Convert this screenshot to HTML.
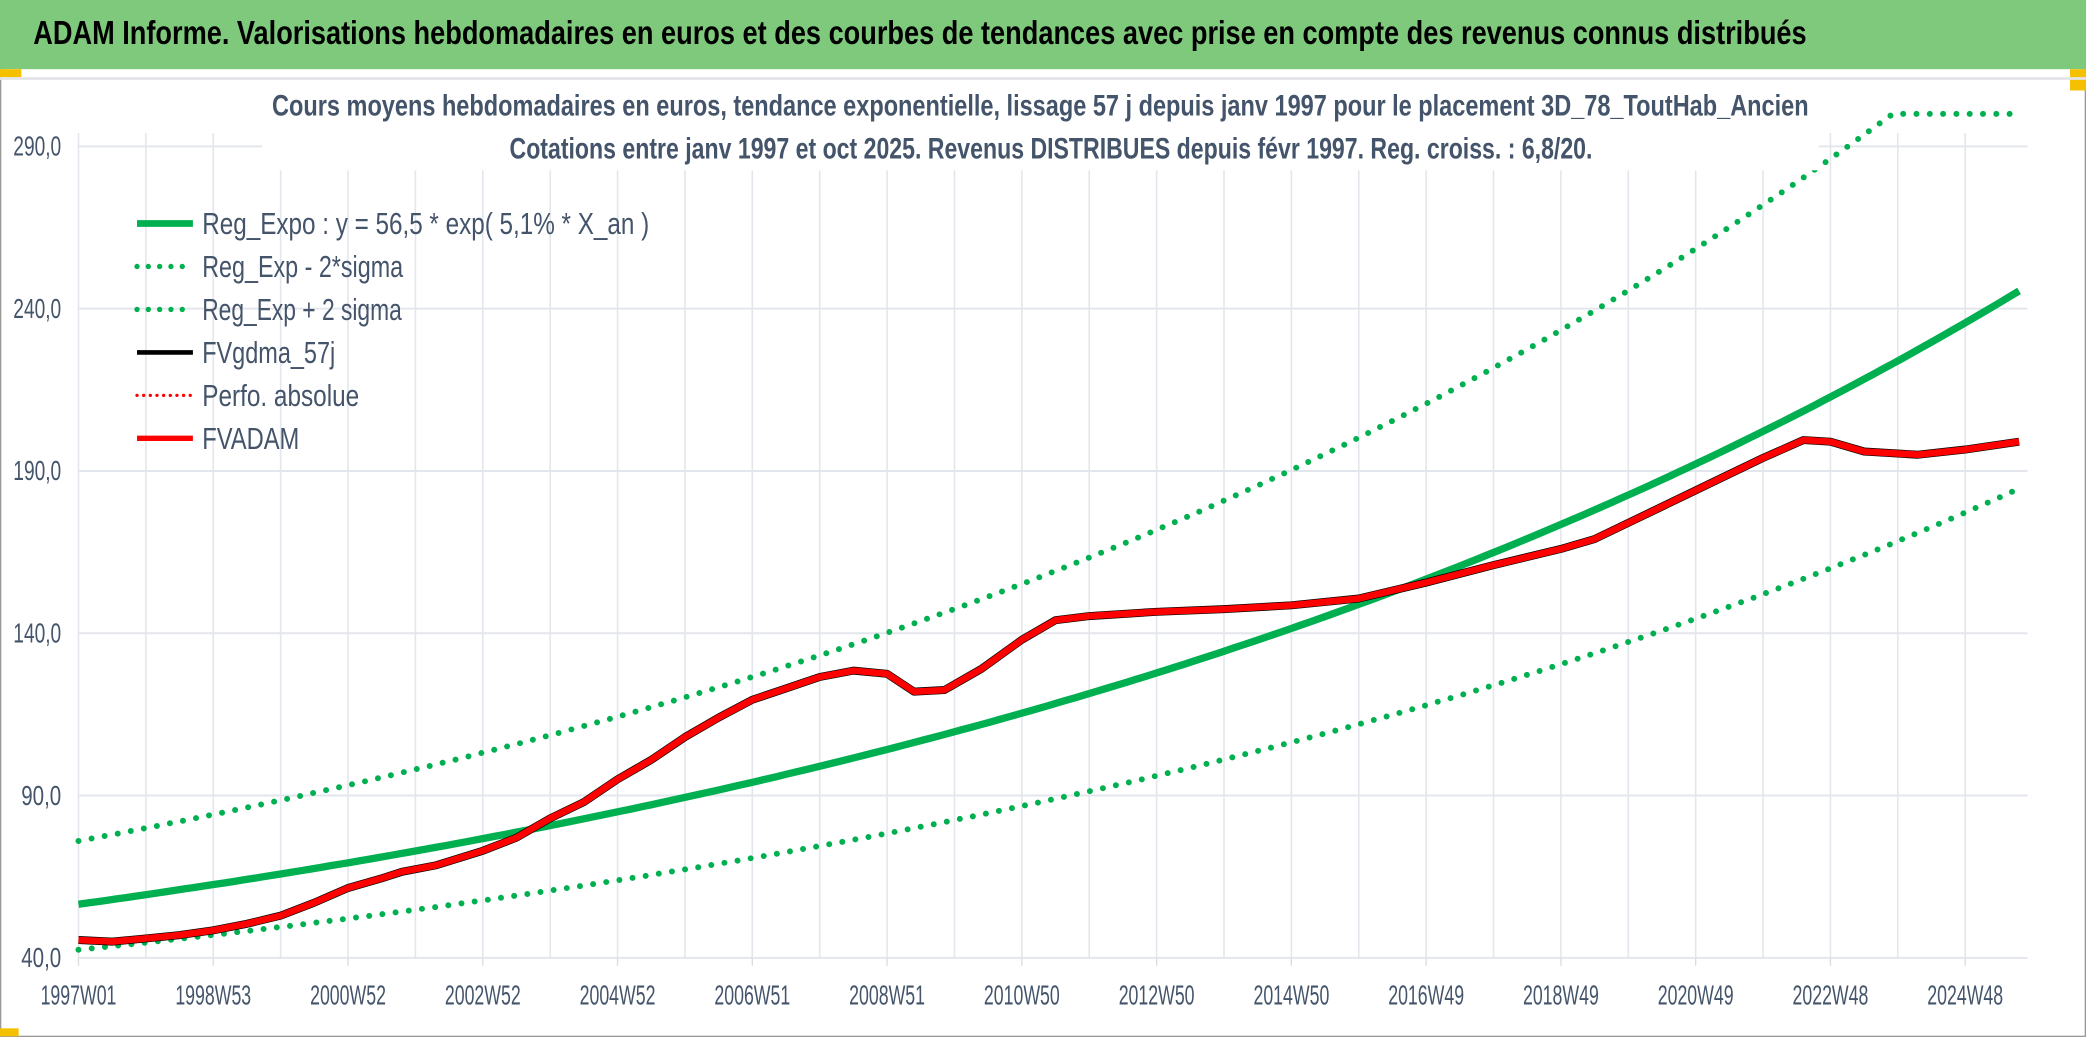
<!DOCTYPE html>
<html><head><meta charset="utf-8"><style>
html,body{margin:0;padding:0;background:#fff;}
svg{display:block;}
text{font-family:"Liberation Sans Narrow","Liberation Sans",sans-serif;}
</style></head><body>
<svg id="chart" width="2086" height="1037" viewBox="0 0 1568 779.5" preserveAspectRatio="none" xmlns="http://www.w3.org/2000/svg">
<rect x="0" y="0" width="1568" height="779.5" fill="#fff" stroke="#9a9a9a" stroke-width="2"/>
<rect x="0" y="0" width="1568" height="52" fill="#7fc97c"/>
<text x="25" y="33" font-size="25" font-weight="bold" fill="#000" textLength="1333" lengthAdjust="spacingAndGlyphs">ADAM Informe. Valorisations hebdomadaires en euros et des courbes de tendances avec prise en compte des revenus connus distribués</text>
<rect x="0" y="52" width="16" height="6" fill="#f5c000"/>
<rect x="1556" y="52" width="12" height="16" fill="#f5c000"/>
<line x1="0" y1="59" x2="1568" y2="59" stroke="#e4e4e8" stroke-width="2"/>
<rect x="0" y="773" width="14" height="6" fill="#f5c000"/>
<g id="grid"></g>
<g id="series"></g>
<rect x="197" y="62" width="1170" height="66" fill="#fff"/>
<text x="782" y="87" text-anchor="middle" font-size="22" font-weight="bold" fill="#44546a" textLength="1155" lengthAdjust="spacingAndGlyphs">Cours moyens hebdomadaires en euros, tendance exponentielle, lissage 57 j depuis janv 1997 pour le placement 3D_78_ToutHab_Ancien</text>
<text x="790" y="119" text-anchor="middle" font-size="22" font-weight="bold" fill="#44546a" textLength="814" lengthAdjust="spacingAndGlyphs">Cotations entre janv 1997 et oct 2025. Revenus DISTRIBUES depuis févr 1997. Reg. croiss. : 6,8/20.</text>
<g id="axes"></g>
<g id="legend"></g>
</svg>
<script>
const yTicks=[40,90,140,190,240,290];
const xTickLabels=["1997W01","1998W53","2000W52","2002W52","2004W52","2006W51","2008W51","2010W50","2012W50","2014W50","2016W49","2018W49","2020W49","2022W48","2024W48"];
const regA=56.5;
const regRate=0.051;
const sigmaHi=1.345;
const sigmaLo=0.752;
const capValue=300;
const tEnd=28.8;
const fvT=[0,0.5,1,1.5,2,2.5,3,3.5,4,4.5,4.8,5.3,6,6.5,7,7.5,8,8.5,9,9.5,10,10.5,11,11.5,12,12.4,12.85,13.4,14,14.5,15,16,17,18,19,20,21,22,22.5,23,23.5,24,24.5,25,25.6,26,26.5,27.3,28,28.8];
const fvV=[45.5,45,46,47,48.5,50.5,53,57,61.5,64.5,66.5,68.5,73,77,83,88,95,101,108,114,119.5,123,126.5,128.5,127.5,122,122.5,129,138,144,145.3,146.6,147.4,148.6,150.7,155.6,161,166,169,174,179,184,189,194,199.5,199,196,195,196.6,199];

const L=59,R=1524,Y0=720,YPX=2.44,XPY=50.65;
const xs=t=>L+t*XPY;
const ys=v=>Y0-(v-40)*YPX;
const NS="http://www.w3.org/2000/svg";
function mk(tag,parent,attrs){const e=document.createElementNS(NS,tag);for(const k in attrs)e.setAttribute(k,attrs[k]);parent.appendChild(e);return e;}
const grid=document.getElementById('grid'),axes=document.getElementById('axes'),ser=document.getElementById('series'),leg=document.getElementById('legend');
for(let i=0;i<=29;i++){const x=xs(i);if(x>R+1)break;const l=mk('line',grid,{x1:x,y1:ys(290)-10,x2:x,y2:Y0,stroke:'#e3e6ec','stroke-width':1.2});

}
yTicks.forEach(v=>{const l=mk('line',grid,{x1:L,y1:ys(v),x2:R,y2:ys(v),stroke:'#e3e6ec','stroke-width':1.5});


const t=mk('text',axes,{x:46,y:ys(v)+7,'text-anchor':'end','font-size':21,fill:'#44546a',textLength:v>=100?36:30,lengthAdjust:'spacingAndGlyphs'});t.textContent=v.toFixed(1).replace('.',',');

});
xTickLabels.forEach((s,i)=>{const x=xs(i*2);
const tk=mk('line',axes,{x1:x,y1:Y0,x2:x,y2:Y0+6,stroke:'#d9dce2','stroke-width':1});


const t=mk('text',axes,{x:x,y:755,'text-anchor':'middle','font-size':21,fill:'#44546a',textLength:57,lengthAdjust:'spacingAndGlyphs'});t.textContent=s;

});
function reg(t){return regA*Math.exp(regRate*t);}
function pathFrom(f){let d='';for(let i=0;i<=200;i++){const t=tEnd*i/200;d+=(i?'L':'M')+xs(t).toFixed(1)+','+ys(f(t)).toFixed(1);}return d;}
const up=mk('path',ser,{d:pathFrom(t=>Math.min(capValue,reg(t)*sigmaHi)),fill:'none',stroke:'#00b050','stroke-width':4.5,'stroke-dasharray':'0 10','stroke-linecap':'round'});


const lo=mk('path',ser,{d:pathFrom(t=>reg(t)*sigmaLo),fill:'none',stroke:'#00b050','stroke-width':4.5,'stroke-dasharray':'0 10','stroke-linecap':'round'});


const rg=mk('path',ser,{d:pathFrom(reg),fill:'none',stroke:'#00b050','stroke-width':5.5});


let d='';fvT.forEach((t,i)=>{d+=(i?'L':'M')+xs(t).toFixed(1)+','+ys(fvV[i]).toFixed(1);});
const bk=mk('path',ser,{d:d,fill:'none',stroke:'#000','stroke-width':6,'stroke-linejoin':'round'});


const rd=mk('path',ser,{d:d,fill:'none',stroke:'#ff0000','stroke-width':5,'stroke-linejoin':'round'});


const legItems=[["Reg_Expo : y = 56,5 * exp( 5,1% *  X_an )",'#00b050',5,null,336],["Reg_Exp - 2*sigma",'#00b050',4,'0 8.5',151],["Reg_Exp + 2 sigma",'#00b050',4,'0 8.5',150],["FVgdma_57j",'#000',3.5,null,100],["Perfo. absolue",'#ff0000',2.5,'0 5',118],["FVADAM",'#ff0000',4,null,73]];
legItems.forEach((it,i)=>{const y=168+i*32.3;
const g=mk('g',leg,{});


const a={x1:103,y1:y,x2:145,y2:y,stroke:it[1],'stroke-width':it[2]};if(it[3]){a['stroke-dasharray']=it[3];a['stroke-linecap']='round';}
mk('line',g,a);
const t=mk('text',g,{x:152,y:y+8,'font-size':23,fill:'#44546a',textLength:it[4],lengthAdjust:'spacingAndGlyphs'});t.textContent=it[0];});
</script>
</body></html>
